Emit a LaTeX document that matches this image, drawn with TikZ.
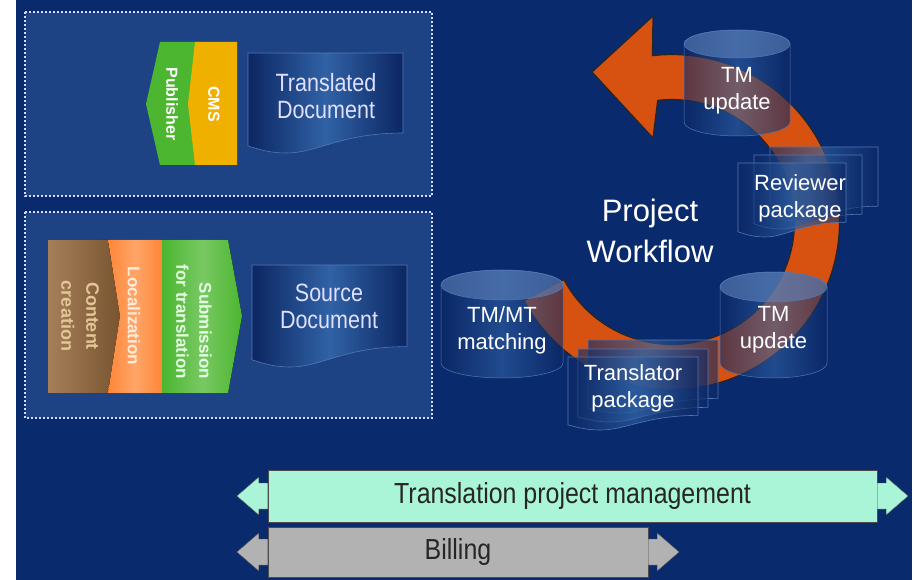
\documentclass[tikz,border=0pt]{standalone}
\usepackage{fontspec}
\setmainfont{Liberation Sans}
\newfontfamily\narrowsans[FakeStretch=0.86]{Liberation Sans}
\usetikzlibrary{calc}
\definecolor{bgnavy}{RGB}{10,42,110}
\definecolor{boxblue}{RGB}{30,67,132}
\definecolor{docedge}{RGB}{12,38,98}
\definecolor{docmid}{RGB}{48,98,165}
\definecolor{docline}{RGB}{80,120,180}
\definecolor{cylcapc}{RGB}{95,130,185}
\definecolor{arroworange}{RGB}{215,82,16}
\definecolor{pubgreen}{RGB}{76,182,48}
\definecolor{cmsgold}{RGB}{240,176,0}
\definecolor{locorange}{RGB}{255,135,55}
\definecolor{contentbrown}{RGB}{150,105,60}
\definecolor{contenttext}{RGB}{228,198,150}
\definecolor{mint}{RGB}{170,245,215}
\definecolor{billgray}{RGB}{178,178,178}
\tikzset{
  pagebg/.style={fill=bgnavy},
  stagebox/.style={fill=boxblue,draw=white!85!blue,line width=2pt,
    dash pattern=on 2pt off 2pt},
  stagetext/.style={rotate=-90,text=white,inner sep=0pt,align=center,
    font=\bfseries\fontsize{16}{20}\selectfont},
  doctext/.style={text=white!88!blue,align=center,
    font=\narrowsans\fontsize{25}{27}\selectfont},
  cyltext/.style={text=white,align=center,
    font=\fontsize{22}{27}\selectfont},
  docshade/.style={left color=docedge,right color=docedge,middle color=docmid,
    draw=docline,line width=0.6pt},
  cylshade/.style={left color=docedge,right color=docedge,middle color=docmid,
    draw=docline,line width=0.5pt},
  cylcap/.style={fill=cylcapc,draw=docline,line width=0.5pt},
  flowarrow/.style={fill=arroworange,draw=black!85,line width=1.2pt},
  barbox/.style={rectangle,draw=black!70,thin,inner sep=0pt,text=black!85,
    font=\narrowsans\fontsize{29}{30}\selectfont},
  barhead/.style={draw=black!70,thin},
  % document page: width, height
  pics/docpage/.style n args={2}{code={
    \path[docshade] (0,0) -- (#1,0) -- (#1,{0.8*#2})
      .. controls ({0.6*#1},{0.8*#2}) and ({0.45*#1},{#2}) .. ({0.25*#1},{#2})
      .. controls ({0.12*#1},{#2}) and ({0.05*#1},{0.95*#2}) .. (0,{0.93*#2})
      -- cycle;
  }},
  % cylinder: half width, height, cap radius
  pics/dbcyl/.style n args={3}{code={
    \path[cylshade] (-#1,#3) -- (-#1,{#2-#3})
      arc[start angle=180,end angle=360,x radius=#1pt,y radius=#3pt]
      -- (#1,#3)
      arc[start angle=0,end angle=180,x radius=#1pt,y radius=#3pt] -- cycle;
    \path[cylcap] (0,#3) ellipse[x radius=#1pt,y radius=#3pt];
  }}
}
\begin{document}
\begin{tikzpicture}[x=1pt,y=-1pt]
  \useasboundingbox (0,0) rectangle (914,580);
  \fill[pagebg] (16,0) rectangle (912,580);

  % publishing stage
  \draw[stagebox] (25,12) rectangle (432,196);
  \fill[pubgreen] (146,104) -- (160,42) -- (200,42) -- (200,165) -- (160,165) -- cycle;
  \fill[cmsgold] (195,42) -- (237,42) -- (237,165) -- (195,165) -- (188,104) -- cycle;
  \node (pub) [stagetext] at (172,104) {Publisher};
  \node (cms) [stagetext] at (214,104) {CMS};
  \pic at (248,53) {docpage={155}{100}};
  \node (transdoc) [doctext] at (326,96) {Translated\\Document};

  % authoring stage
  \draw[stagebox] (25,212) rectangle (432,418);
  \fill[left color=contentbrown!85!white,right color=contentbrown!80!black]
    (48,240) -- (108,240) -- (120,316) -- (108,393) -- (48,393) -- cycle;
  \fill[left color=locorange,right color=locorange,middle color=locorange!75!white]
    (108,240) -- (162,240) -- (162,393) -- (108,393) -- (120,316) -- cycle;
  \fill[left color=pubgreen,right color=pubgreen,middle color=pubgreen!75!white]
    (162,240) -- (228,240) -- (242,316) -- (228,393) -- (162,393) -- cycle;
  \node (content) [stagetext,text=contenttext,font=\bfseries\fontsize{18}{25}\selectfont]
    at (80,316) {Content\\creation};
  \node (local) [stagetext,text=white!85!orange,font=\bfseries\fontsize{17}{22}\selectfont]
    at (134,316) {Localization};
  \node (submit) [stagetext,align=right,text=white!90!green,
    font=\bfseries\fontsize{17}{23}\selectfont] at (194,322) {Submission\\for translation};
  \pic at (252,265) {docpage={155}{102}};
  \node (srcdoc) [doctext] at (329,306) {Source\\Document};

  % workflow loop
  \draw[flowarrow]
    plot[domain=152:-96.7,samples=80] ({672+167.5*cos(\x)},{222+167.5*sin(\x)})
    -- (653,16) -- (592,72) -- (653,138)
    -- plot[domain=-96.7:152,samples=80] ({672+122.5*cos(\x)},{222+122.5*sin(\x)})
    -- cycle;
  \begin{scope}[fill opacity=0.6]
    \pic at (737,30) {dbcyl={53}{106}{14}};
    \pic at (502,270) {dbcyl={61}{108}{15}};
    \pic at (773.5,272) {dbcyl={53.5}{106}{15}};
    \pic at (770,147) {docpage={108}{74}};
    \pic at (754,155) {docpage={108}{74}};
    \pic at (738,163) {docpage={108}{74}};
    \pic at (588,340) {docpage={130}{73}};
    \pic at (578,349) {docpage={130}{73}};
    \pic at (568,357) {docpage={130}{73}};
  \end{scope}
  \node (tmtop) [cyltext] at (737,91) {TM\\update};
  \node (tmmt) [cyltext] at (502,330) {TM/MT\\matching};
  \node (tmbot) [cyltext] at (773.5,330) {TM\\update};
  \node (revpkg) [cyltext] at (800,198) {Reviewer\\package};
  \node (transpkg) [cyltext] at (633,388) {Translator\\package};
  \node (workflow) [text=white,align=center,font=\fontsize{31}{41}\selectfont]
    at (650,231) {Project\\Workflow};

  % management bars
  \node (tpm) [barbox,fill=mint,minimum width=609pt,minimum height=52pt]
    at (572.5,496) {Translation project management};
  \draw[barhead,fill=mint] ($(tpm.west)+(0,-13)$) -- ++(-9,0) -- ++(0,-6)
    -- ++(-22,19) -- ++(22,19) -- ++(0,-6) -- ++(9,0) -- cycle;
  \draw[barhead,fill=mint] ($(tpm.east)+(0,-13)$) -- ++(9,0) -- ++(0,-6)
    -- ++(22,19) -- ++(-22,19) -- ++(0,-6) -- ++(-9,0) -- cycle;
  \node (billing) [barbox,fill=billgray,minimum width=380pt,minimum height=50pt]
    at (458,552) {Billing};
  \draw[barhead,fill=billgray] ($(billing.west)+(0,-13)$) -- ++(-9,0) -- ++(0,-6)
    -- ++(-22,19) -- ++(22,19) -- ++(0,-6) -- ++(9,0) -- cycle;
  \draw[barhead,fill=billgray] ($(billing.east)+(0,-13)$) -- ++(9,0) -- ++(0,-6)
    -- ++(22,19) -- ++(-22,19) -- ++(0,-6) -- ++(-9,0) -- cycle;
\end{tikzpicture}
\end{document}
